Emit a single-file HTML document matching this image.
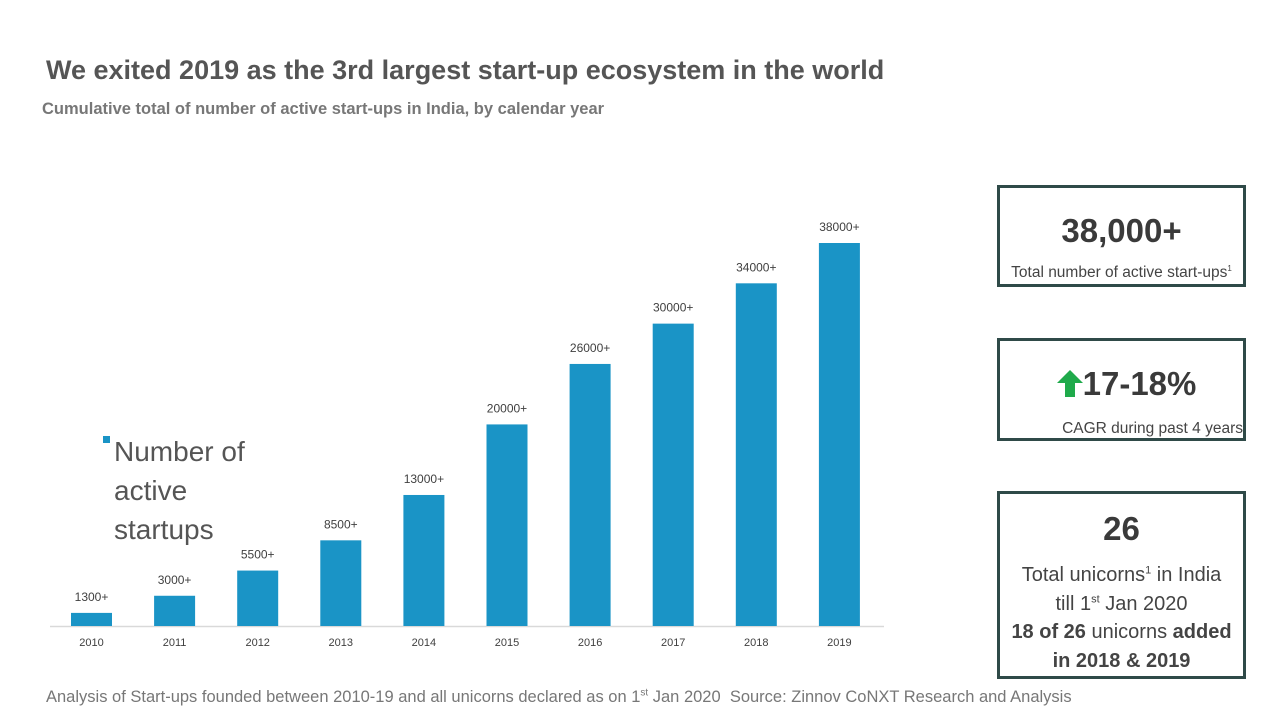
<!DOCTYPE html>
<html><head><meta charset="utf-8"><style>
body{margin:0;width:1280px;height:720px;background:#fff;position:relative;overflow:hidden;font-family:"Liberation Sans",sans-serif;color:#404040}
.abs{position:absolute}
.box{position:absolute;border:3px solid #2f4a48;box-sizing:border-box;text-align:center}
sup{line-height:0}
</style></head><body>
<div class="abs" style="left:46px;top:55px;font-size:27px;font-weight:bold;color:#555;white-space:nowrap">We exited 2019 as the 3rd largest start-up ecosystem in the world</div>
<div class="abs" style="left:42px;top:100px;font-size:16.5px;font-weight:bold;color:#777;white-space:nowrap">Cumulative total of number of active start-ups in India, by calendar year</div>
<svg class="abs" style="left:0;top:0" width="1280" height="720">
<g id="g"></g>
</svg>
<div class="abs" style="left:103px;top:432px;font-size:28px;line-height:39px;color:#555"><span style="position:absolute;left:0;top:4px;width:7px;height:7px;background:#1a94c6"></span><div style="margin-left:11px">Number of<br>active<br>startups</div></div>
<div class="box" style="left:997px;top:185px;width:249px;height:102px">
<div style="font-size:33px;font-weight:bold;margin-top:24px;color:#3a3a3a">38,000+</div>
<div style="font-size:15.5px;white-space:nowrap;margin-top:14px;color:#444">Total number of active start-ups<sup style="font-size:8px">1</sup></div></div>
<div class="box" style="left:997px;top:338px;width:249px;height:103px">
<div style="font-size:33px;font-weight:bold;margin-top:24px;color:#3a3a3a;padding-left:10px"><span style="display:inline-block;width:0;height:0;border-left:13px solid transparent;border-right:13px solid transparent;border-bottom:13px solid #1faa4b;vertical-align:middle;position:relative;top:-10px"></span><span style="display:inline-block;width:10px;height:20px;background:#1faa4b;margin-left:-18px;margin-right:8px;vertical-align:middle;position:relative;top:1px"></span>17-18%</div>
<div style="font-size:15.5px;white-space:nowrap;margin-top:17px;text-align:right;color:#444">CAGR during past 4 years</div></div>
<div class="box" style="left:997px;top:491px;width:249px;height:188px">
<div style="font-size:33px;font-weight:bold;margin-top:16px;color:#3a3a3a">26</div>
<div style="font-size:20px;line-height:28.5px;margin-top:13px;color:#444">Total unicorns<sup style="font-size:11px">1</sup> in India<br>till 1<sup style="font-size:11px">st</sup> Jan 2020<br><b>18 of 26</b> unicorns <b>added<br>in 2018 &amp; 2019</b></div></div>
<div class="abs" style="left:46px;top:688px;font-size:16.5px;color:#777;white-space:nowrap">Analysis of Start-ups founded between 2010-19 and all unicorns declared as on 1<sup style="font-size:10px">st</sup> Jan 2020&nbsp; Source: Zinnov CoNXT Research and Analysis</div>
<script>
const categories=["2010","2011","2012","2013","2014","2015","2016","2017","2018","2019"];
const values=[1300,3000,5500,8500,13000,20000,26000,30000,34000,38000];
const valueLabels=["1300+","3000+","5500+","8500+","13000+","20000+","26000+","30000+","34000+","38000+"];
const NS="http://www.w3.org/2000/svg",g=document.getElementById('g');
const base=626,x0=91.5,step=83.1,bw=41;
const y=v=>base-v*383/38000;
const x=i=>x0+i*step;
function mk(t,a){const e=document.createElementNS(NS,t);for(const k in a)e.setAttribute(k,a[k]);g.appendChild(e);return e;}
const ax=mk('line',{x1:50,x2:884,y1:base+0.5,y2:base+0.5,stroke:'#d9d9d9','stroke-width':1.5});


categories.forEach((c,i)=>{
 const r=mk('rect',{x:x(i)-bw/2,y:y(values[i]),width:bw,height:base-y(values[i]),fill:'#1a94c6'});
 
 
 const l=mk('text',{x:x(i),y:y(values[i])-12,'text-anchor':'middle','font-size':12,fill:'#404040'});
 l.textContent=valueLabels[i];
 
 
 const t=mk('text',{x:x(i),y:646,'text-anchor':'middle','font-size':11,fill:'#404040'});
 t.textContent=c;
 
 
});
</script>
</body></html>
